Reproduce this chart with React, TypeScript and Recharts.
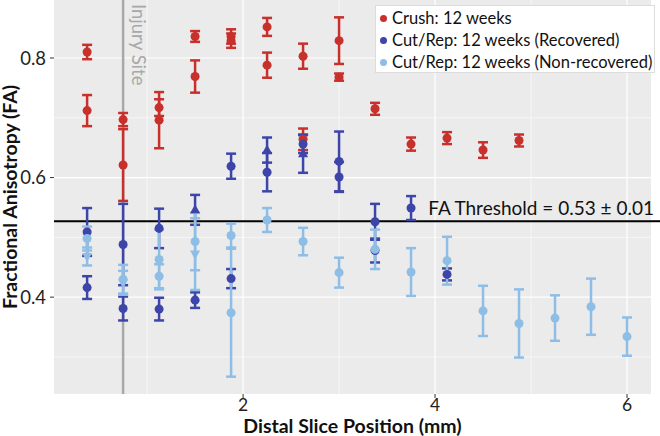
import React from "react";
import {
  ScatterChart,
  Scatter,
  XAxis,
  YAxis,
  CartesianGrid,
  ErrorBar,
  ReferenceLine,
} from "recharts";

const FONT = "Lato, 'Open Sans', sans-serif";
const RED = "#c8302c";
const DARK = "#3d46a8";
const LIGHT = "#8ebee6";

// axis setup
const xTicks = [2, 4, 6];
const xMinor = [1, 3, 5];
const yTicks = [0.4, 0.6, 0.8];
const yMinor = [0.3, 0.5, 0.7];
const injurySite = 0.75;
const faThreshold = 0.527;
const thresholdText = "FA Threshold = 0.53 \u00b1 0.01";
const seriesNames = [
  "Crush: 12 weeks",
  "Cut/Rep: 12 weeks (Recovered)",
  "Cut/Rep: 12 weeks (Non-recovered)",
];

// x = distal slice position (mm), fa = mean FA, err = error
const crush = [
  { x: 0.375, fa: 0.81, err: 0.012 },
  { x: 0.375, fa: 0.712, err: 0.026 },
  { x: 0.75, fa: 0.697, err: 0.011 },
  { x: 0.75, fa: 0.621, err: 0.06 },
  { x: 1.125, fa: 0.717, err: 0.014 },
  { x: 1.125, fa: 0.696, err: 0.047 },
  { x: 1.5, fa: 0.836, err: 0.009 },
  { x: 1.5, fa: 0.769, err: 0.027 },
  { x: 1.875, fa: 0.836, err: 0.012 },
  { x: 1.875, fa: 0.829, err: 0.012 },
  { x: 2.25, fa: 0.852, err: 0.015 },
  { x: 2.25, fa: 0.788, err: 0.021 },
  { x: 2.625, fa: 0.803, err: 0.021 },
  { x: 2.625, fa: 0.664, err: 0.018 },
  { x: 3.0, fa: 0.829, err: 0.039 },
  { x: 3.0, fa: 0.768, err: 0.006 },
  { x: 3.375, fa: 0.715, err: 0.01 },
  { x: 3.75, fa: 0.656, err: 0.011 },
  { x: 4.125, fa: 0.666, err: 0.01 },
  { x: 4.5, fa: 0.646, err: 0.013 },
  { x: 4.875, fa: 0.662, err: 0.01 },
];

const recovered = [
  { x: 0.375, fa: 0.509, err: 0.04 },
  { x: 0.375, fa: 0.416, err: 0.019 },
  { x: 0.75, fa: 0.488, err: 0.068 },
  { x: 0.75, fa: 0.381, err: 0.02 },
  { x: 1.125, fa: 0.515, err: 0.033 },
  { x: 1.125, fa: 0.38, err: 0.019 },
  { x: 1.5, fa: 0.395, err: 0.013 },
  { x: 1.875, fa: 0.619, err: 0.021 },
  { x: 1.875, fa: 0.431, err: 0.016 },
  { x: 2.25, fa: 0.609, err: 0.032 },
  { x: 2.625, fa: 0.656, err: 0.015 },
  { x: 3.0, fa: 0.627, err: 0.05 },
  { x: 3.0, fa: 0.601, err: 0.025 },
  { x: 3.375, fa: 0.526, err: 0.03 },
  { x: 3.375, fa: 0.478, err: 0.02 },
  { x: 3.75, fa: 0.549, err: 0.02 },
  { x: 4.125, fa: 0.438, err: 0.01 },
];

const recoveredTri = [
  { x: 1.5, fa: 0.546, err: 0.025 },
  { x: 2.25, fa: 0.646, err: 0.021 },
  { x: 2.625, fa: 0.64, err: 0.032 },
];

const nonRecovered = [
  { x: 0.375, fa: 0.498, err: 0.02 },
  { x: 0.75, fa: 0.43, err: 0.024 },
  { x: 1.125, fa: 0.463, err: 0.05 },
  { x: 1.125, fa: 0.435, err: 0.02 },
  { x: 1.5, fa: 0.493, err: 0.048 },
  { x: 1.875, fa: 0.503, err: 0.02 },
  { x: 1.875, fa: 0.374, err: 0.107 },
  { x: 2.25, fa: 0.529, err: 0.02 },
  { x: 2.625, fa: 0.493, err: 0.023 },
  { x: 3.0, fa: 0.441, err: 0.025 },
  { x: 3.375, fa: 0.48, err: 0.033 },
  { x: 3.75, fa: 0.442, err: 0.04 },
  { x: 4.125, fa: 0.461, err: 0.04 },
  { x: 4.5, fa: 0.377, err: 0.042 },
  { x: 4.875, fa: 0.356, err: 0.057 },
  { x: 5.25, fa: 0.365, err: 0.038 },
  { x: 5.625, fa: 0.384, err: 0.047 },
  { x: 6.0, fa: 0.334, err: 0.032 },
];

const nonRecoveredTri = [
  { x: 0.375, fa: 0.468, err: 0.015 },
  { x: 0.75, fa: 0.424, err: 0.02 },
  { x: 1.5, fa: 0.472, err: 0.06 },
];

const upTriangle = (fill: string) => (p: any) => (
  <path d={`M${p.cx},${p.cy - 5.5}L${p.cx + 5},${p.cy + 3.5}L${p.cx - 5},${p.cy + 3.5}Z`} fill={fill} />
);
const downTriangle = (fill: string) => (p: any) => (
  <path d={`M${p.cx},${p.cy + 5.5}L${p.cx + 5},${p.cy - 3.5}L${p.cx - 5},${p.cy - 3.5}Z`} fill={fill} />
);

const bar = (color: string) => (
  <ErrorBar dataKey="err" direction="y" width={5} stroke={color} strokeWidth={2.5} />
);

export default function App() {
  const colors = [RED, DARK, LIGHT];
  return (
    <div style={{ position: "absolute", left: 0, top: 0, width: 660, height: 436, background: "#fff", fontFamily: FONT }}>
      <ScatterChart width={660} height={436} margin={{ top: 0, right: 9, bottom: 0, left: 0 }}>
        <CartesianGrid
          fill="#ebebeb"
          stroke="#ffffff"
          strokeWidth={0.6}
          horizontalValues={yMinor}
          verticalValues={xMinor}
        />
        <CartesianGrid stroke="#ffffff" strokeWidth={1.2} horizontalValues={yTicks} verticalValues={xTicks} />
        <XAxis
          type="number"
          dataKey="x"
          domain={[0.03, 6.25]}
          allowDataOverflow
          ticks={xTicks}
          height={42}
          tickSize={4}
          tickMargin={1}
          axisLine={false}
          tickLine={{ stroke: "#333" }}
          tick={{ fontSize: 17.5, fill: "#222", fontFamily: FONT }}
          label={{
            value: "Distal Slice Position (mm)",
            position: "insideBottom",
            offset: 3,
            fontSize: 19.5,
            fontWeight: 700,
            fill: "#111",
            fontFamily: FONT,
          }}
        />
        <YAxis
          type="number"
          dataKey="fa"
          domain={[0.238, 0.897]}
          allowDataOverflow
          ticks={yTicks}
          width={54}
          tickSize={4}
          tickMargin={4}
          axisLine={false}
          tickLine={{ stroke: "#333" }}
          tickFormatter={(v: number) => v.toFixed(1)}
          tick={{ fontSize: 18.5, fill: "#222", fontFamily: FONT }}
          label={() => (
            <text
              x={17}
              y={197}
              transform="rotate(-90, 17, 197)"
              textAnchor="middle"
              fontSize={19.5}
              fontWeight={700}
              fill="#111"
              fontFamily={FONT}
            >
              Fractional Anisotropy (FA)
            </text>
          )}
        />
        <ReferenceLine
          x={injurySite}
          stroke="#a8a8a8"
          strokeWidth={2.5}
          label={(p: any) => {
            const vb = p.viewBox || {};
            const tx = vb.x + 9;
            const ty = vb.y + 4;
            return (
              <text x={tx} y={ty} transform={`rotate(90, ${tx}, ${ty})`} fontSize={18.5} fill="#a8a8a8" fontFamily={FONT}>
                Injury Site
              </text>
            );
          }}
        />
        <ReferenceLine
          y={faThreshold}
          stroke="#000"
          strokeWidth={2}
          label={(p: any) => {
            const vb = p.viewBox || {};
            const right = vb.x + vb.width;
            return (
              <g>
                <line x1={right} x2={660} y1={vb.y} y2={vb.y} stroke="#000" strokeWidth={2} />
                <text x={right + 3} y={vb.y - 6} textAnchor="end" fontSize={19} fill="#111" fontFamily={FONT}>
                  {thresholdText}
                </text>
              </g>
            );
          }}
        />
        <Scatter name={seriesNames[0]} data={crush} fill={RED} isAnimationActive={false}>
          {bar(RED)}
        </Scatter>
        <Scatter name={seriesNames[1]} data={recovered} fill={DARK} isAnimationActive={false}>
          {bar(DARK)}
        </Scatter>
        <Scatter name={seriesNames[1]} data={recoveredTri} fill={DARK} shape={upTriangle(DARK)} isAnimationActive={false}>
          {bar(DARK)}
        </Scatter>
        <Scatter name={seriesNames[2]} data={nonRecovered} fill={LIGHT} isAnimationActive={false}>
          {bar(LIGHT)}
        </Scatter>
        <Scatter name={seriesNames[2]} data={nonRecoveredTri} fill={LIGHT} shape={downTriangle(LIGHT)} isAnimationActive={false}>
          {bar(LIGHT)}
        </Scatter>
      </ScatterChart>
      <div
        style={{
          position: "absolute",
          left: 375,
          top: 5,
          width: 280,
          height: 68,
          boxSizing: "border-box",
          background: "#fff",
          border: "1px solid #dcdcdc",
          padding: "1px 0 0 4px",
          fontSize: 16.5,
          color: "#111",
          lineHeight: "22px",
        }}
      >
        {seriesNames.map((n, i) => (
          <div key={n} style={{ display: "flex", alignItems: "center", whiteSpace: "nowrap" }}>
            <span
              style={{
                display: "inline-block",
                flexShrink: 0,
                width: 7,
                height: 7,
                borderRadius: "50%",
                background: colors[i],
                marginRight: 5,
              }}
            />
            {n}
          </div>
        ))}
      </div>
    </div>
  );
}
